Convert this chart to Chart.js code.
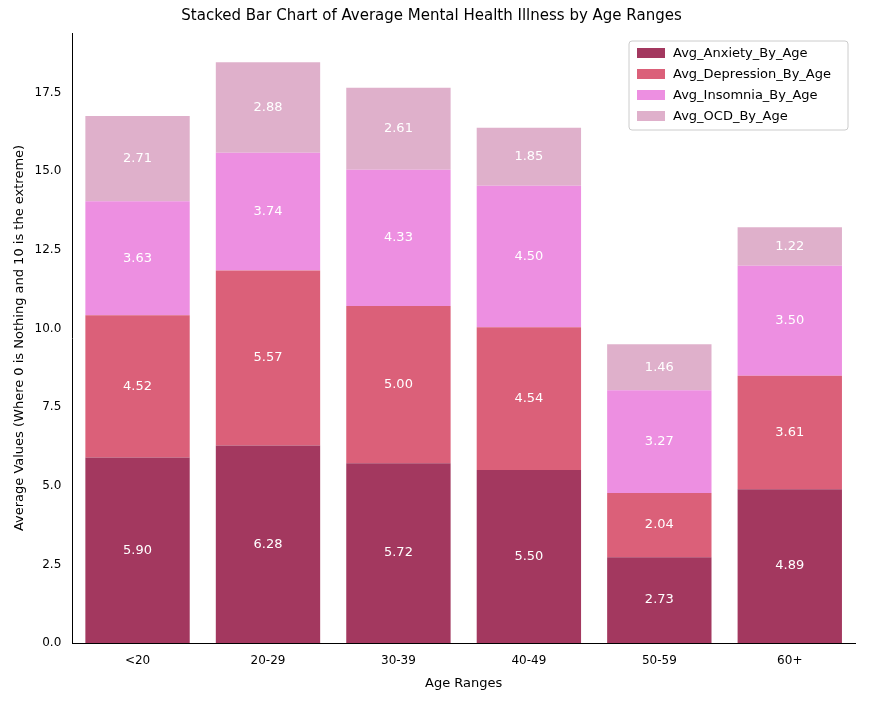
<!DOCTYPE html>
<html>
<head>
<script src="https://cdn.jsdelivr.net/npm/chart.js"></script>
<style>body{margin:0;background:#fff}</style>
</head>
<body>
<canvas id="c" width="875" height="703"></canvas>
<script>
const ageRanges = ["<20", "20-29", "30-39", "40-49", "50-59", "60+"];
const anxiety = [5.90, 6.28, 5.72, 5.50, 2.73, 4.89];
const depression = [4.52, 5.57, 5.00, 4.54, 2.04, 3.61];
const insomnia = [3.63, 3.74, 4.33, 4.50, 3.27, 3.50];
const ocd = [2.71, 2.88, 2.61, 1.85, 1.46, 1.22];

const colors = ["#a3385f", "#db6079", "#ed8fe1", "#dfb0cb"];
const names = ["Avg_Anxiety_By_Age", "Avg_Depression_By_Age", "Avg_Insomnia_By_Age", "Avg_OCD_By_Age"];
const series = [anxiety, depression, insomnia, ocd];

const font = "'DejaVu Sans', sans-serif";

const extras = {
  id: "extras",
  afterDatasetsDraw(chart) {
    const ctx = chart.ctx;
    ctx.save();
    ctx.font = "13px " + font;
    ctx.fillStyle = "#fff";
    ctx.textAlign = "center";
    ctx.textBaseline = "middle";
    chart.data.datasets.forEach((ds, i) => {
      chart.getDatasetMeta(i).data.forEach((bar, j) => {
        const y = (bar.y + bar.base) / 2;
        ctx.fillText(ds.data[j].toFixed(2), bar.x, y);
      });
    });
    // legend
    const a = chart.chartArea;
    const w = 219, h = 89, x0 = a.right - w - 7, y0 = a.top + 8;
    ctx.fillStyle = "rgba(255,255,255,0.8)";
    ctx.strokeStyle = "#ccc";
    ctx.lineWidth = 1;
    ctx.beginPath();
    ctx.roundRect(x0, y0, w, h, 3);
    ctx.fill(); ctx.stroke();
    ctx.textAlign = "left";
    names.forEach((n, i) => {
      const yy = y0 + 12 + i * 21;
      ctx.fillStyle = colors[i];
      ctx.fillRect(x0 + 8, yy - 5, 28, 10);
      ctx.fillStyle = "#000";
      ctx.fillText(n, x0 + 44, yy + 1);
    });
    ctx.restore();
  }
};

new Chart(document.getElementById("c"), {
  type: "bar",
  data: {
    labels: ageRanges,
    datasets: series.map((d, i) => ({
      label: names[i],
      data: d,
      backgroundColor: colors[i],
      categoryPercentage: 1,
      barPercentage: 0.8,
    })),
  },
  options: {
    animation: false,
    responsive: false,
    devicePixelRatio: 1,
    layout: { padding: { top: 5, right: 20, left: 8, bottom: 8 } },
    plugins: {
      legend: { display: false },
      tooltip: { enabled: false },
      title: {
        display: true,
        text: "Stacked Bar Chart of Average Mental Health Illness by Age Ranges",
        color: "#000",
        font: { family: font, size: 15, weight: "normal" },
        padding: { top: 2, bottom: 8 },
      },
    },
    scales: {
      x: {
        stacked: true,
        offset: true,
        grid: { display: false },
        border: { color: "#000" },
        ticks: { color: "#000", maxRotation: 0, font: { family: font, size: 12 } },
        title: { display: true, text: "Age Ranges", color: "#000", font: { family: font, size: 13 } },
      },
      y: {
        stacked: true,
        min: 0,
        max: 19.4,
        grid: { display: false },
        border: { color: "#000" },
        ticks: {
          stepSize: 2.5,
          color: "#000",
          font: { family: font, size: 12 },
          callback: (v) => (v % 2.5 === 0 ? v.toFixed(1) : ""),
        },
        title: { display: true, text: "Average Values (Where 0 is Nothing and 10 is the extreme)", color: "#000", font: { family: font, size: 13 } },
      },
    },
  },
  plugins: [extras],
});
</script>
</body>
</html>
